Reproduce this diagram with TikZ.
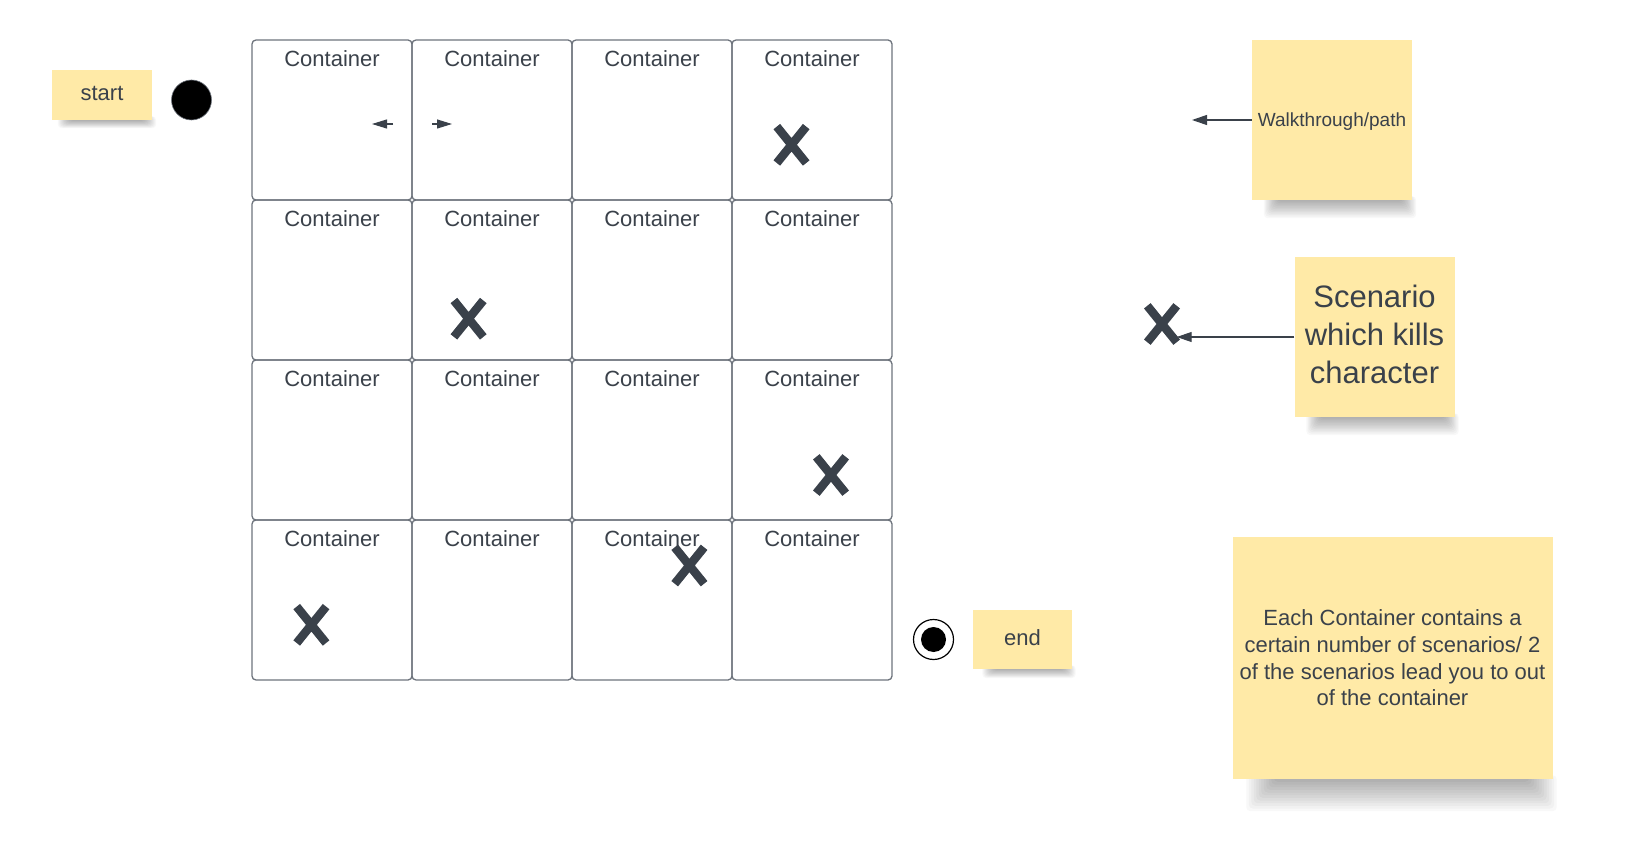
\documentclass[tikz,border=0pt]{standalone}
\usepackage{fontspec}
\setmainfont{Liberation Sans}
\usetikzlibrary{arrows.meta,calc}
\definecolor{sticky}{RGB}{255,234,167}
\definecolor{ink}{RGB}{58,65,74}
\definecolor{gridc}{RGB}{110,116,125}
\pgfdeclarelayer{bg}
\pgfdeclarelayer{paper}
\pgfsetlayers{paper,bg,main}
\tikzset{
 cell/.style={draw=gridc, line width=1.3pt, rounded corners=4pt, minimum width=160pt, minimum height=160pt, inner sep=0pt},
 ctext/.style={text=ink, font=\fontsize{22}{26}\selectfont, inner sep=0pt, align=center},
 note/.style={fill=sticky, inner sep=0pt},
 xbox/.style={minimum width=29pt, minimum height=36pt, inner sep=0pt},
 xline/.style={draw=ink, line width=8.5pt, line cap=butt},
 conn/.style={draw=ink, line width=1.1pt, -{Triangle[length=15pt,width=10pt]}},
 smallarr/.style={draw=ink, line width=1.1pt, -{Triangle[length=15pt,width=9pt]}},
}
% #1 node, #2 left inset, #3 depth, #4 horizontal step
\newcommand\noteshadow[4]{%
 \begin{pgfonlayer}{bg}
 \foreach \i in {0,...,11}{
   \fill[black, opacity=0.028, rounded corners=4pt] ($(#1.south west)+({#2+#4*\i},-4)$) rectangle ($(#1.south east)+({4-#4*\i},{#3*(12-\i)/12})$);
 }
 \end{pgfonlayer}}
\newcommand\xmark[3]{%
 \node[xbox] (#1) at (#2,#3) {};
 \draw[xline] (#1.north west) -- (#1.south east) (#1.north east) -- (#1.south west);}
\begin{document}
\begin{tikzpicture}[x=1pt,y=-1pt]
\begin{pgfonlayer}{paper}
\fill[white] (0,0) rectangle (1633,850);
\end{pgfonlayer}
\useasboundingbox (0,0) rectangle (1633,850);
% grid of containers
\foreach \r in {0,...,3}{
  \foreach \c in {0,...,3}{
    \node[cell] (c\r\c) at ({332+160*\c},{120+160*\r}) {};
    \node[ctext] (t\r\c) at ($(c\r\c.north)+(0,19.5)$) {Container};
  }
}
% start / end
\node[note, minimum width=100pt, minimum height=50pt] (start) at (102,95) {};
\node[ctext] (startt) at (102,93) {start};
\noteshadow{start}{6}{8}{1}
\node[circle, fill=black, draw=gridc, line width=0.6pt, minimum size=40pt, inner sep=0pt] (st) at (191.5,100) {};
\node[circle, draw=black, fill=white, line width=1.2pt, minimum size=40pt, inner sep=0pt] (en) at (933.5,639.5) {};
\node[circle, fill=black, minimum size=25pt, inner sep=0pt] (enin) at (en) {};
\node[note, minimum width=99pt, minimum height=59pt] (endn) at (1022,639.5) {};
\node[ctext] (endt) at (1022.5,637.5) {end};
\noteshadow{endn}{10}{9}{1}
% small path arrows
\coordinate (a1t) at (393,124);
\coordinate (a1h) at (372,124);
\coordinate (a2t) at (432,124);
\coordinate (a2h) at (452,124);
\draw[smallarr] (a1t) -- (a1h);
\draw[smallarr] (a2t) -- (a2h);
% X marks in cells
\xmark{x03}{791.5}{144.8}
\xmark{x11}{468.6}{318.7}
\xmark{x23}{831}{475}
\xmark{x30}{311.4}{624.8}
\xmark{x32}{689.4}{565.5}
% legend
\node[note, minimum width=160pt, minimum height=160pt] (walk) at (1332,120) {};
\node[ctext, font=\fontsize{19}{23}\selectfont] (walkt) at (1332,121.5) {Walkthrough/path};
\noteshadow{walk}{12}{18}{1.2}
\coordinate (wend) at (1192,120);
\draw[conn] (walk.west) -- (wend);
\node[note, minimum width=160pt, minimum height=160pt] (scen) at (1374.5,337) {};
\node[ctext, font=\fontsize{31}{38}\selectfont] (scent) at (1374.5,334) {Scenario\\which kills\\character};
\noteshadow{scen}{12}{18}{1.2}
\xmark{lx}{1162}{324}
\draw[conn] (scen.west) -- (scen.west -| lx.east);
\node[note, minimum width=320pt, minimum height=242pt] (big) at (1392.5,658) {};
\node[ctext, font=\fontsize{22}{26.7}\selectfont] (bigt) at (1392.5,658) {Each Container contains a\\certain number of scenarios/ 2\\of the scenarios lead you to out\\of the container};
\noteshadow{big}{14}{32}{2.5}
\end{tikzpicture}
\end{document}
